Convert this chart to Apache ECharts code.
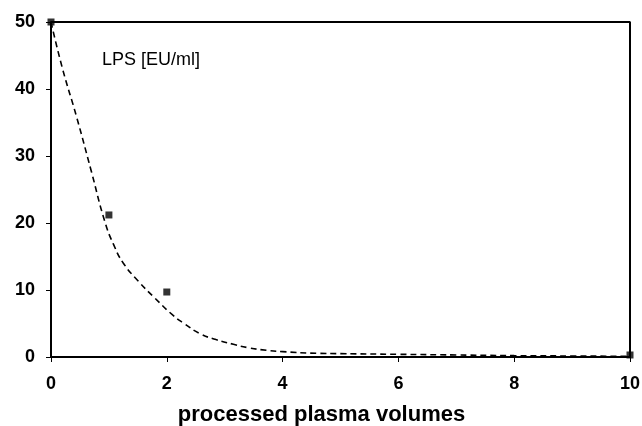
<!DOCTYPE html>
<html>
<head>
  <meta charset="utf-8">
  <title>LPS removal</title>
  <script src="https://cdn.jsdelivr.net/npm/echarts@6.0.0/dist/echarts.min.js"></script>
  <style>
    html, body { margin: 0; padding: 0; background: #fff; }
  </style>
</head>
<body>
  <div id="main" style="width:642px; height:426px;"></div>
  <script type="text/javascript">
    // measured points (processed volumes, LPS)
    const volumes = [0, 1, 2, 10];
    const lps = [50, 21.2, 9.7, 0.3];

    // dashed fit curve
    const fitX = [0, 0.2, 0.44, 0.7, 0.93, 1.08, 1.25, 1.51, 1.77, 2.11, 2.3, 2.57, 2.85, 3.15, 3.4, 3.72, 4, 4.6, 5, 6, 7, 8, 9, 10];
    const fitY = [50, 43, 35.9, 27.6, 20.2, 16.8, 14.0, 11.3, 9.0, 6.2, 5.0, 3.5, 2.6, 1.9, 1.4, 1.0, 0.8, 0.55, 0.5, 0.4, 0.3, 0.2, 0.15, 0.1];

    const xTicks = [0, 2, 4, 6, 8, 10];
    const yTicks = [0, 10, 20, 30, 40, 50];

    var myChart = echarts.init(document.getElementById('main'));

    const labelFont = {
      color: '#000',
      fontFamily: 'Liberation Sans, Arial, sans-serif',
      fontWeight: 'bold',
      fontSize: 18
    };

    var option = {
      animation: false,
      backgroundColor: '#fff',
      grid: { left: 51, right: 12, top: 22, bottom: 69, show: false, outerBoundsMode: 'none', containLabel: false },
      graphic: [{
        type: 'text',
        left: 102,
        top: 51,
        style: {
          text: 'LPS [EU/ml]',
          fill: '#000',
          font: '18px "Liberation Sans", Arial, sans-serif'
        }
      }],
      xAxis: {
        type: 'value',
        min: 0,
        max: 10,
        interval: 2,
        name: 'processed plasma volumes',
        nameLocation: 'middle',
        nameGap: 47,
        nameTextStyle: Object.assign({}, labelFont, { fontSize: 22, padding: [0, 38, 0, 0] }),
        axisLine: { onZero: false, lineStyle: { color: '#000', width: 2 } },
        axisTick: { show: true, length: 5, lineStyle: { color: '#000' } },
        axisLabel: Object.assign({}, labelFont, {
          margin: 18,
          formatter: v => xTicks.includes(v) ? String(v) : ''
        }),
        splitLine: { show: false }
      },
      yAxis: {
        type: 'value',
        min: 0,
        max: 50,
        interval: 10,
        axisLine: { onZero: false, lineStyle: { color: '#000', width: 2 } },
        axisTick: { show: true, length: 5, lineStyle: { color: '#000' } },
        axisLabel: Object.assign({}, labelFont, {
          margin: 16,
          formatter: v => yTicks.includes(v) ? String(v) : ''
        }),
        splitLine: { show: false }
      },
      series: [
        {
          name: 'fit',
          type: 'line',
          data: fitX.map((x, i) => [x, fitY[i]]),
          smooth: 0.5,
          showSymbol: false,
          lineStyle: { color: '#000', width: 1.6, type: [6, 4] },
          z: 2
        },
        {
          name: 'LPS',
          type: 'scatter',
          data: volumes.map((x, i) => [x, lps[i]]),
          symbol: 'rect',
          symbolSize: 7,
          itemStyle: { color: '#000' },
          z: 3
        },
        // frame: top and right border drawn along the axis extents
        {
          name: 'frame',
          type: 'line',
          data: [[0, 50], [10, 50], [10, 0]],
          showSymbol: false,
          lineStyle: { color: '#000', width: 2 },
          silent: true,
          z: 1
        }
      ]
    };

    myChart.setOption(option);
  </script>
</body>
</html>
